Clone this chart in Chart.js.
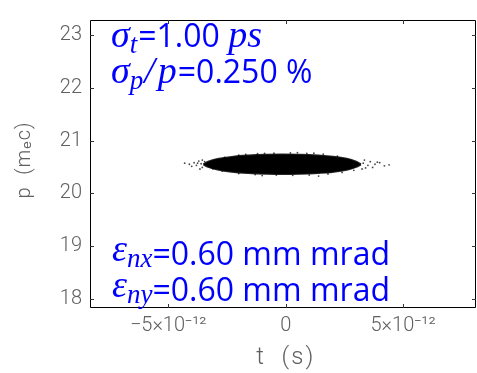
<!DOCTYPE html>
<html>
<head>
<meta charset="utf-8">
<script src="https://cdn.jsdelivr.net/npm/chart.js@4/dist/chart.umd.min.js"></script>
<style>
html,body{margin:0;padding:0;background:#fff;overflow:hidden;width:477px;height:373px;}
canvas{display:block;}
</style>
</head>
<body>
<canvas id="c" width="480" height="373"></canvas>
<script>
// ---- data (time in ps, momentum in m_e c) ----
const tOutline = [-3.5,-3.3,-2.9,-2.3,-1.6,-0.8,-0.15,0.6,1.4,2.0,2.6,3.0,3.2];
const pUpper   = [20.55,20.60,20.65,20.69,20.715,20.73,20.735,20.73,20.715,20.695,20.655,20.60,20.55];
const pLower   = [20.55,20.50,20.45,20.41,20.385,20.37,20.365,20.37,20.385,20.405,20.445,20.50,20.55];
const haloT = [-3.6,-3.8,-3.9,-4.1,-4.3,-3.7,-3.55,-4.0,-3.55,-3.65,-3.45,-3.75,
               3.3,3.5,3.6,3.8,4.0,4.2,3.4,3.7,3.35,4.4,3.25,3.9,
               -2.6,-2.0,-1.2,-0.5,0.2,0.9,1.6,2.2,-1.7,1.2,-0.9,0.5,
               -2.7,-2.0,-1.3,-0.4,0.3,1.0,1.8,2.4,-1.0,1.4,2.9,-3.1];
const haloP = [20.56,20.53,20.58,20.55,20.57,20.61,20.49,20.51,20.63,20.46,20.60,20.57,
               20.57,20.53,20.60,20.55,20.58,20.52,20.48,20.49,20.63,20.54,20.46,20.59,
               20.68,20.725,20.75,20.76,20.765,20.755,20.74,20.705,20.735,20.76,20.755,20.77,
               20.42,20.375,20.355,20.345,20.34,20.345,20.365,20.395,20.335,20.325,20.435,20.465];
const yTickValues = [18,19,20,21,22,23];
const xTickValues = [-5e-12, 0, 5e-12];
const xTickLabels = ["\u22125\u00d710\u207b\u00b9\u00b2", "0", "5\u00d710\u207b\u00b9\u00b2"];
const xRange = [-8.33e-12, 8.1e-12];
const yRange = [17.82, 23.29];

const upper = tOutline.map((t,i)=>({x:t*1e-12, y:pUpper[i]}));
const lower = tOutline.map((t,i)=>({x:t*1e-12, y:pLower[i]}));
const halo = haloT.map((t,i)=>({x:t*1e-12, y:haloP[i]}));

const GREY = '#606060';
const BLUE = '#0000ff';
const LIGHT = 'Roboto, "DejaVu Sans", sans-serif';

const framePlugin = {
  id:'frame',
  afterDatasetsDraw(chart){
    const {ctx, chartArea:a, scales:{x,y}} = chart;
    ctx.save();
    ctx.strokeStyle = '#000';
    ctx.lineWidth = 1;
    ctx.beginPath();
    ctx.rect(a.left+0.5, a.top+0.5, a.right-a.left-1, a.bottom-a.top-1);
    ctx.stroke();
    ctx.strokeStyle = '#333';
    ctx.beginPath();
    x.ticks.forEach(t=>{
      const px = Math.round(x.getPixelForValue(t.value))+0.5;
      ctx.moveTo(px, a.bottom); ctx.lineTo(px, a.bottom-4);
      ctx.moveTo(px, a.top); ctx.lineTo(px, a.top+4);
    });
    y.ticks.forEach(t=>{
      const py = Math.round(y.getPixelForValue(t.value))+0.5;
      ctx.moveTo(a.left, py); ctx.lineTo(a.left+4, py);
      ctx.moveTo(a.right, py); ctx.lineTo(a.right-4, py);
    });
    ctx.stroke();
    ctx.restore();
  },
  afterDraw(chart){
    const {ctx} = chart;
    ctx.save();
    // axis titles
    ctx.fillStyle = GREY;
    ctx.textBaseline = 'alphabetic';
    ctx.textAlign = 'center';
    ctx.font = '300 24px ' + LIGHT;
    ctx.letterSpacing = '2px';
    ctx.fillText('t  (s)', chart.scales.x.getPixelForValue(0), 364);
    ctx.translate(30, 160);
    ctx.rotate(-Math.PI/2);
    ctx.font = '300 20px ' + LIGHT;
    ctx.letterSpacing = '1px';
    ctx.fillText('p  (m\u2091c)', 0, 0);
    ctx.restore();

    // annotations
    function seg(parts, x, y){
      ctx.save();
      ctx.fillStyle = BLUE;
      ctx.textAlign = 'left';
      ctx.textBaseline = 'alphabetic';
      let cx = x;
      parts.forEach(p=>{
        ctx.font = p.font;
        ctx.fillText(p.text, cx, y + (p.dy||0));
        cx += ctx.measureText(p.text).width + (p.gap||0);
      });
      ctx.restore();
    }
    const SERIF = 'italic 38px "Liberation Serif", "DejaVu Serif", serif';
    const SUB = 'italic 27px "Liberation Serif", "DejaVu Serif", serif';
    const SANS = '32px "Open Sans", "Noto Sans", "Liberation Sans", sans-serif';
    seg([{text:'\u03c3',font:SERIF},{text:'t',font:SUB,dy:6,gap:1},{text:'=1.00 ',font:SANS},{text:'ps',font:SERIF}],111,47);
    seg([{text:'\u03c3',font:SERIF},{text:'p',font:SUB,dy:6,gap:1},{text:'/',font:SERIF,gap:3},{text:'p',font:SERIF,gap:1},{text:'=0.250 %',font:SANS}],111,83);
    const EPS = 'italic 38px "Liberation Serif", "DejaVu Serif", serif';
    seg([{text:'\u03b5',font:EPS,dy:-4},{text:'nx',font:SUB,dy:2},{text:'=0.60 mm mrad',font:SANS}],112,265);
    seg([{text:'\u03b5',font:EPS,dy:-4},{text:'ny',font:SUB,dy:2},{text:'=0.60 mm mrad',font:SANS}],112,301);
  }
};

new Chart(document.getElementById('c'), {
  type:'scatter',
  data:{datasets:[
    {data:upper, showLine:true, tension:0.4, borderColor:'rgba(0,0,0,0.85)', borderWidth:2, pointRadius:0, fill:'+1', backgroundColor:'#000'},
    {data:lower, showLine:true, tension:0.4, borderColor:'rgba(0,0,0,0.85)', borderWidth:2, pointRadius:0, fill:false},
    {data:halo, pointRadius:0.9, pointBackgroundColor:'rgba(40,40,40,0.85)', pointBorderWidth:0}
  ]},
  options:{
    responsive:false, animation:false,
    layout:{padding:{top:8,right:1,left:0,bottom:0}},
    plugins:{legend:{display:false}, tooltip:{enabled:false}},
    scales:{
      x:{type:'linear', min:xRange[0], max:xRange[1],
         grid:{display:false, drawTicks:false}, border:{display:false},
         afterBuildTicks(s){ s.ticks = xTickValues.map(v=>({value:v})); },
         afterFit(s){ s.height = 65; },
         ticks:{padding:6, color:GREY, font:{family:LIGHT, size:20, weight:'300'},
                callback:(v)=>{ const i = xTickValues.indexOf(v); return i>=0 ? xTickLabels[i] : ''; }}},
      y:{type:'linear', min:yRange[0], max:yRange[1],
         grid:{display:false, drawTicks:false}, border:{display:false},
         afterBuildTicks(s){ s.ticks = yTickValues.map(v=>({value:v})); },
         afterFit(s){ s.width = 90; },
         ticks:{padding:8, color:GREY, font:{family:LIGHT, size:20, weight:'300'}}}
    }
  },
  plugins:[framePlugin]
});
</script>
</body>
</html>
